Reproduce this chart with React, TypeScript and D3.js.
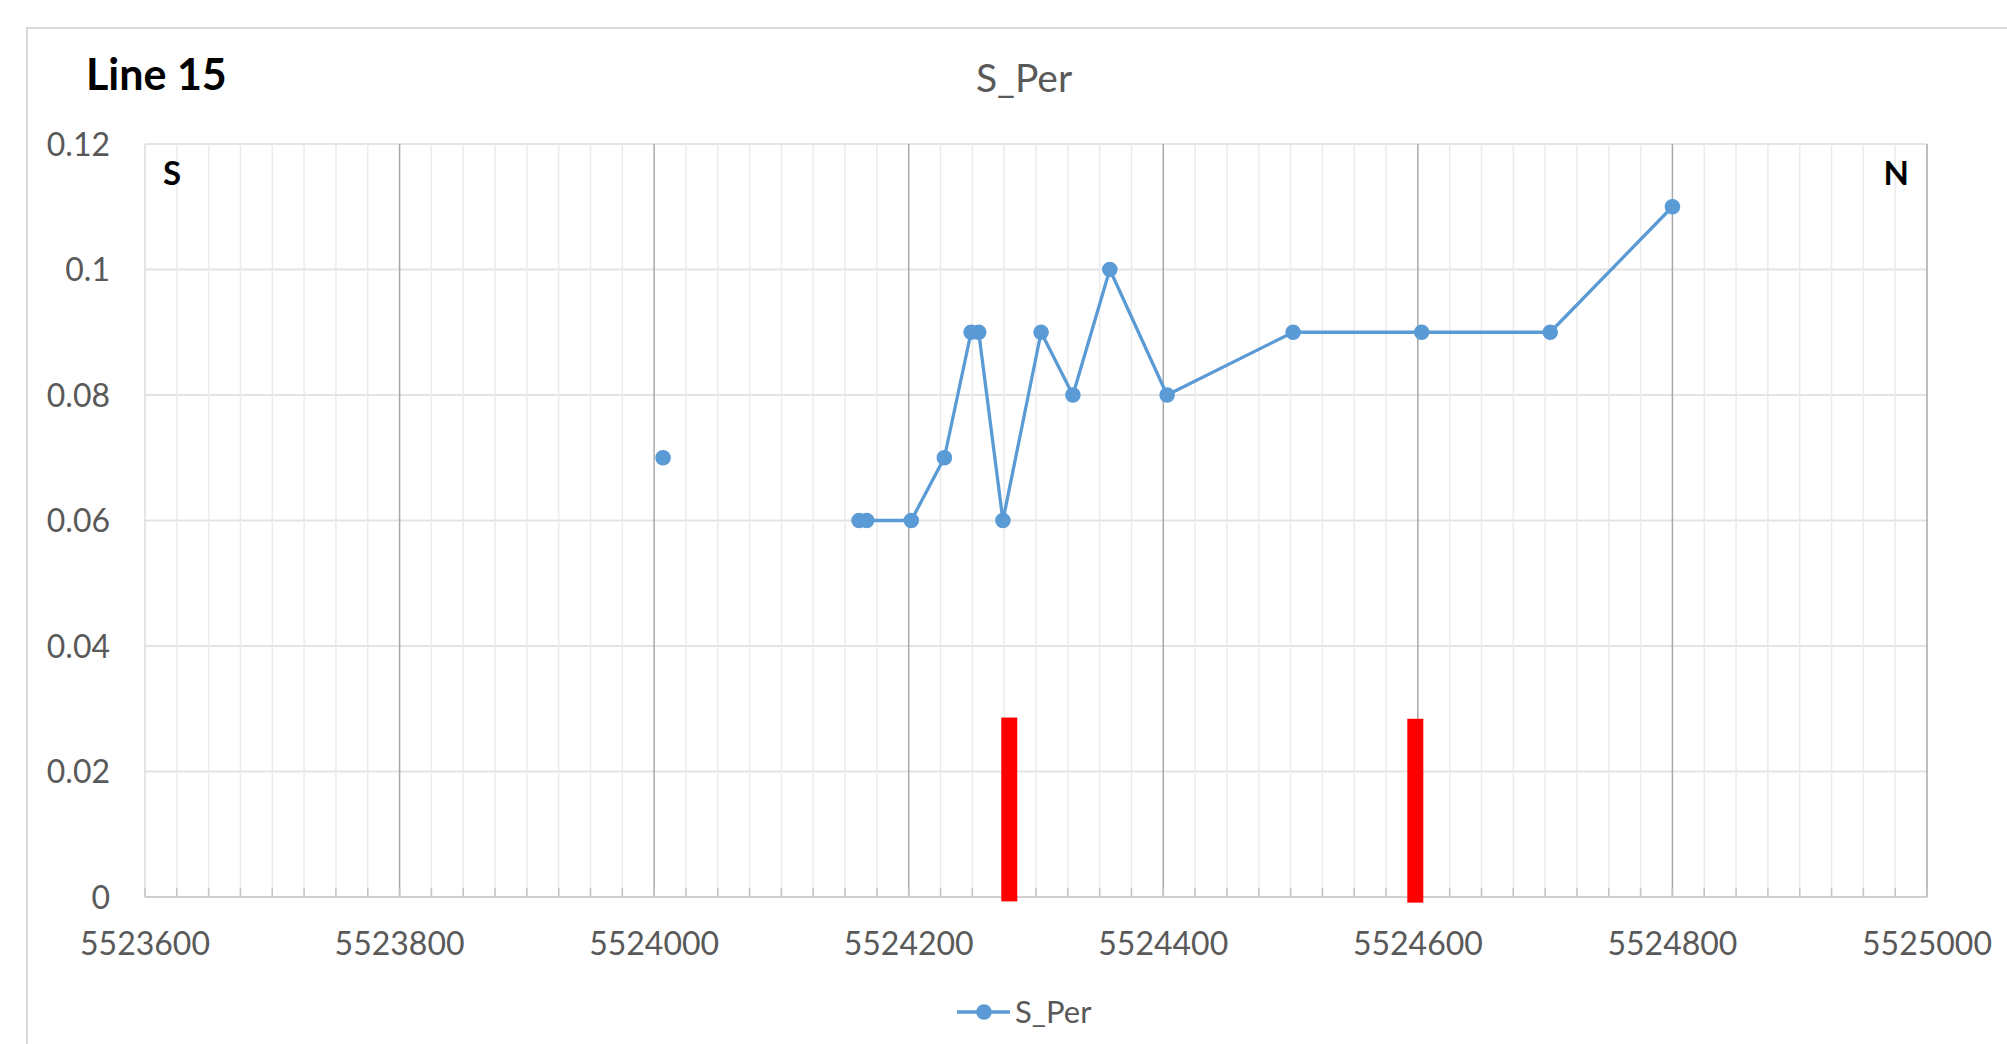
import React from "react";
import * as d3 from "d3";

const xTicks = [5523600, 5523800, 5524000, 5524200, 5524400, 5524600, 5524800, 5525000];
const yTicks = [0, 0.02, 0.04, 0.06, 0.08, 0.1, 0.12];
const yTickLabels = ["0", "0.02", "0.04", "0.06", "0.08", "0.1", "0.12"];

// S_Per series (null = gap)
const sPerX: (number | null)[] = [5524007, null, 5524161, 5524167, 5524202, 5524228, 5524249, 5524255, 5524274, 5524304, 5524329, 5524358, 5524403, 5524502, 5524603, 5524704, 5524800];
const sPerY: (number | null)[] = [0.07, null, 0.06, 0.06, 0.06, 0.07, 0.09, 0.09, 0.06, 0.09, 0.08, 0.1, 0.08, 0.09, 0.09, 0.09, 0.11];

// red marker bars
const markerX = [5524279, 5524598];
const markerTop = [0.0286, 0.0284];
const markerBottom = [-0.0007, -0.0009];

const chartTitle = "S_Per";
const cornerTitle = "Line 15";
const seriesName = "S_Per";

const W = 2007;
const H = 1044;
const left = 145;
const right = 1927;
const top = 144;
const bottom = 897;

export default function App() {
  const x = d3.scaleLinear().domain([5523600, 5525000]).range([left, right]);
  const y = d3.scaleLinear().domain([0, 0.12]).range([bottom, top]);
  const minorTicks = d3.range(5523600, 5525000 + 1, 25);
  const pts = sPerX.map((v, i) => ({ x: v, y: sPerY[i] }));
  const line = d3
    .line<{ x: number | null; y: number | null }>()
    .defined((d) => d.x != null && d.y != null)
    .x((d) => x(d.x as number))
    .y((d) => y(d.y as number));
  const font = "Lato, 'Open Sans', sans-serif";
  const blue = "#5b9bd5";
  return (
    <svg width={W} height={H} style={{ position: "absolute", left: 0, top: 0, background: "#fff" }}>
      <rect x={27} y={28} width={W + 100} height={H + 100} fill="#fff" stroke="#d9d9d9" strokeWidth={2} />
      <text x={86} y={90} fontFamily={font} fontWeight={700} fontSize={43} fill="#000">{cornerTitle}</text>
      <text x={1024} y={92} textAnchor="middle" fontFamily={font} fontSize={39} fill="#595959">{chartTitle}</text>
      {/* horizontal gridlines */}
      {yTicks.map((t) => (
        <line key={"h" + t} x1={left} x2={right} y1={y(t)} y2={y(t)} stroke="#e4e4e4" strokeWidth={2} />
      ))}
      {/* minor vertical gridlines */}
      {minorTicks.filter((t) => !xTicks.includes(t)).map((t) => (
        <line key={"m" + t} x1={x(t)} x2={x(t)} y1={top} y2={bottom} stroke="#ebebeb" strokeWidth={1.5} />
      ))}
      {/* major vertical gridlines */}
      {xTicks.map((t, i) => (
        <line key={"v" + t} x1={x(t)} x2={x(t)} y1={top} y2={bottom} stroke={i === 0 ? "#dcdcdc" : "#a8a8a8"} strokeWidth={1.5} />
      ))}
      {/* x axis line */}
      <line x1={left} x2={right} y1={bottom} y2={bottom} stroke="#d0d0d0" strokeWidth={2} />
      {minorTicks.map((t) => (
        <line key={"t" + t} x1={x(t)} x2={x(t)} y1={bottom - 9} y2={bottom} stroke="#c4c4c4" strokeWidth={1.5} />
      ))}
      {/* y tick labels */}
      {yTicks.map((t, i) => (
        <text key={"yl" + t} x={110} y={y(t)} dy="0.36em" textAnchor="end" fontFamily={font} fontSize={32} fill="#595959">{yTickLabels[i]}</text>
      ))}
      {/* x tick labels */}
      {xTicks.map((t) => (
        <text key={"xl" + t} x={x(t)} y={943} dy="0.36em" textAnchor="middle" fontFamily={font} fontSize={32} fill="#595959">{String(t)}</text>
      ))}
      {/* S / N labels */}
      <text x={163} y={185} fontFamily={font} fontWeight={700} fontSize={33} fill="#000">S</text>
      <text x={1909} y={185} textAnchor="end" fontFamily={font} fontWeight={700} fontSize={33} fill="#000">N</text>
      {/* series line */}
      <path d={line(pts) || ""} fill="none" stroke={blue} strokeWidth={3.3} strokeLinejoin="round" />
      {pts.filter((p) => p.x != null && p.y != null).map((p, i) => (
        <circle key={"c" + i} cx={x(p.x as number)} cy={y(p.y as number)} r={7.8} fill={blue} />
      ))}
      {/* red bars */}
      {markerX.map((m, i) => (
        <rect key={"r" + i} x={x(m) - 8} y={y(markerTop[i])} width={16} height={y(markerBottom[i]) - y(markerTop[i])} fill="#ff0000" />
      ))}
      {/* legend */}
      <line x1={957} x2={1010} y1={1012} y2={1012} stroke={blue} strokeWidth={3.3} />
      <circle cx={984} cy={1012} r={7.8} fill={blue} />
      <text x={1015} y={1012} dy="0.36em" fontFamily={font} fontSize={31} fill="#595959">{seriesName}</text>
    </svg>
  );
}
